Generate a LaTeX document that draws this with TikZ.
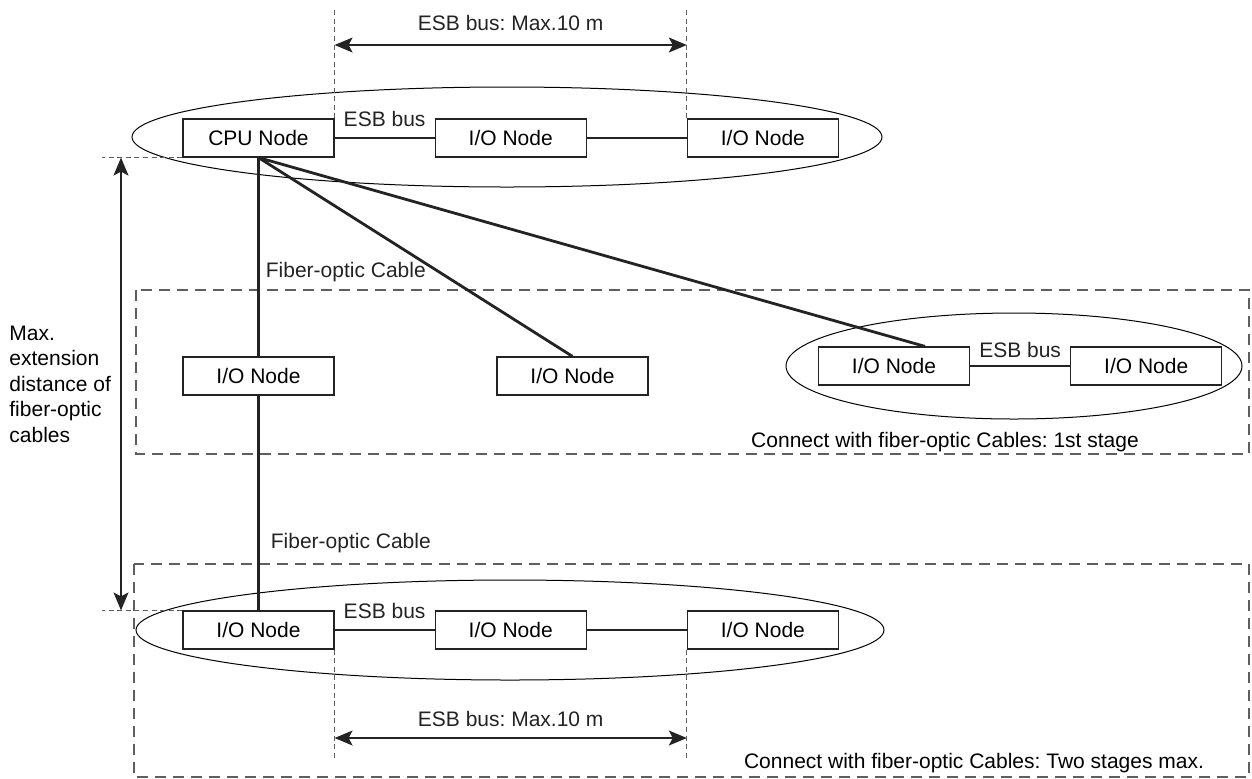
\documentclass[tikz,border=0pt]{standalone}
\usepackage{fontspec}
\setmainfont{Liberation Sans}
\usepackage{tikz}
\usetikzlibrary{shapes.geometric, arrows.meta, positioning, calc}
\definecolor{linegray}{RGB}{35, 35, 35}
\definecolor{dashgray}{RGB}{95, 95, 95}
\newcommand{\lbl}{\fontsize{10.5}{12.75}\selectfont}
\frenchspacing

\begin{document}
\begin{tikzpicture}[
    x=0.5pt, y=-0.5pt,
    node distance=50pt,
    unit/.style={draw=linegray, line width=0.6pt, minimum width=75.5pt, minimum height=19pt, inner sep=0pt, font=\lbl},
    group/.style={draw, ellipse, line width=0.5pt, inner sep=0pt},
    cable/.style={line width=1.4pt, linegray},
    guide/.style={dashgray, line width=0.5pt, dash pattern=on 2.5pt off 1.8pt},
    zone/.style={dashgray, line width=0.6pt, dash pattern=on 5.5pt off 3.5pt},
    dim/.style={{Stealth[length=9pt,width=7.5pt,inset=2pt]}-{Stealth[length=9pt,width=7.5pt,inset=2pt]}, line width=0.6pt, linegray},
    note/.style={font=\lbl, inner sep=0pt}
]
    \useasboundingbox (0,0) rectangle (1252,778);

    % CPU row
    \node[unit] (cpu) at (258.5,138) {CPU Node};
    \node[unit, right=of cpu] (io12) {I/O Node};
    \node[unit, right=of io12] (io13) {I/O Node};
    \node[group, minimum width=375pt, minimum height=50pt] (grp1) at (507,137) {};

    % 1st stage
    \draw[zone] (136,290) rectangle (1249,454);
    \node[unit] (io21) at (258.5,376) {I/O Node};
    \node[unit] (io22) at (572.5,376) {I/O Node};
    \node[unit] (io23) at (894,366) {I/O Node};
    \node[unit, right=of io23] (io24) {I/O Node};
    \node[group, minimum width=228pt, minimum height=53pt] (grp2) at (1014,366) {};
    \node[note, anchor=base] (stage1) at (945,447) {Connect with fiber-optic Cables: 1st stage};

    % 2nd stage
    \draw[zone] (134,564) rectangle (1249,777);
    \node[unit] (io31) at (258.5,630) {I/O Node};
    \node[unit, right=of io31] (io32) {I/O Node};
    \node[unit, right=of io32] (io33) {I/O Node};
    \node[group, minimum width=374pt, minimum height=50pt] (grp3) at (510,630) {};
    \node[note, anchor=base] (stage2) at (974,768) {Connect with fiber-optic Cables: Two stages max.};

    % ESB bus
    \draw[cable] (cpu) -- node[above=5pt, note] {ESB bus} (io12);
    \draw[cable] (io12) -- (io13);
    \draw[cable] (io23) -- node[above=3.5pt, note] {ESB bus} (io24);
    \draw[cable] (io31) -- node[above=5pt, note] {ESB bus} (io32);
    \draw[cable] (io32) -- (io33);

    % fiber-optic cables
    \draw[cable] (cpu.south) -- node[pos=0.575, right=3pt, note] {Fiber-optic Cable} (io21.north);
    \draw[cable] (cpu.south) -- (io22.north);
    \draw[cable] (cpu.south) -- ([xshift=15.5pt]io23.north);
    \draw[cable] (io21) -- node[pos=0.685, right=5.5pt, note] {Fiber-optic Cable} (io31);

    % dimensions
    \coordinate (gtop) at (0,10);
    \coordinate (gbot) at (0,760);
    \coordinate (atop) at (0,45);
    \coordinate (abot) at (0,738);
    \coordinate (gleft) at (102,0);
    \coordinate (aleft) at (121,0);

    \draw[guide] (cpu.north east) -- (cpu.north east |- gtop);
    \draw[guide] (io13.north west) -- (io13.north west |- gtop);
    \draw[dim] (cpu.east |- atop) -- node[above=7pt, note] {ESB bus: Max.10 m} (io13.west |- atop);

    \draw[guide] (io31.south east) -- (io31.south east |- gbot);
    \draw[guide] (io33.south west) -- (io33.south west |- gbot);
    \draw[dim] (io31.east |- abot) -- node[above=5.5pt, note] {ESB bus: Max.10 m} (io33.west |- abot);

    \draw[guide] (cpu.south west) -- (cpu.south west -| gleft);
    \draw[guide] (io31.north west) -- (io31.north west -| gleft);
    \draw[dim] (cpu.south west -| aleft) -- (io31.north west -| aleft);
    \node[note, align=left, anchor=west] (maxtext) at (9,384) {Max.\\extension\\distance of\\fiber-optic\\cables};
\end{tikzpicture}
\end{document}
